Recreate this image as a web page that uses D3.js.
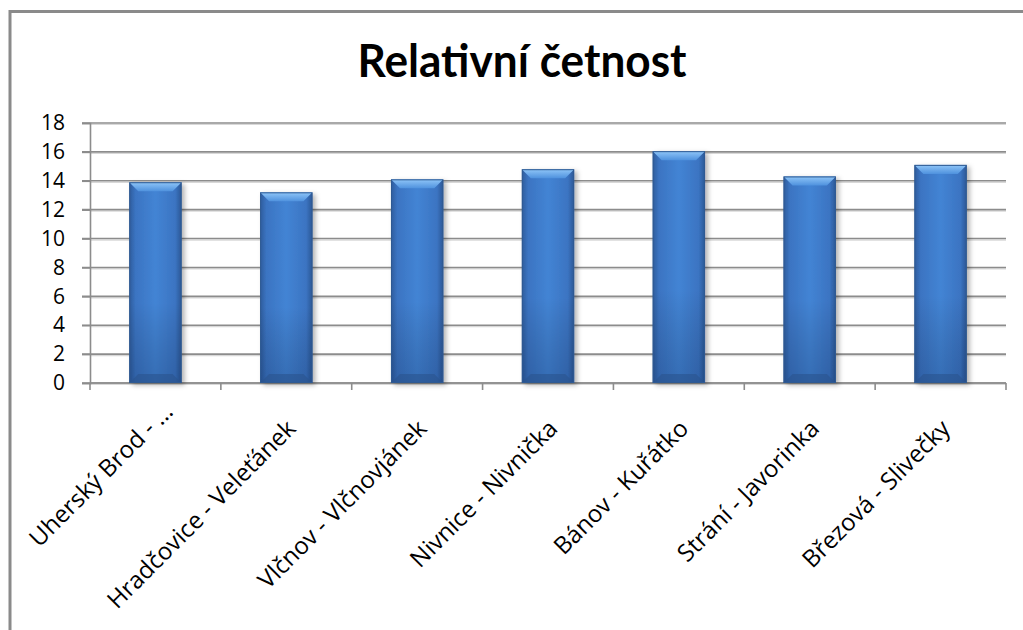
<!DOCTYPE html>
<html>
<head>
<meta charset="utf-8">
<script src="https://cdn.jsdelivr.net/npm/d3@7"></script>
<style>
  html, body { margin: 0; padding: 0; background: #fff; }
  svg { display: block; }
</style>
</head>
<body>
<svg id="chart" width="1023" height="630"></svg>
<script>
const title = "Relativní četnost";
const categories = [
  "Uherský Brod - …",
  "Hradčovice - Veleťánek",
  "Vlčnov - Vlčnovjánek",
  "Nivnice - Nivnička",
  "Bánov - Kuřátko",
  "Strání - Javorinka",
  "Březová - Slivečky"
];
const values = [13.9, 13.2, 14.1, 14.8, 16.05, 14.3, 15.1];
const yTicks = [0, 2, 4, 6, 8, 10, 12, 14, 16, 18];

const svg = d3.select("#chart");
const plot = { left: 90, right: 1006, top: 123, bottom: 383 };

// frame
svg.append("rect").attr("x", 10).attr("y", 11.5).attr("width", 1100).attr("height", 700)
  .attr("fill", "#fff").attr("stroke", "#8a8a8a").attr("stroke-width", 3);

// title
svg.append("text").attr("x", 522).attr("y", 77).attr("text-anchor", "middle")
  .attr("font-family", "Lato, 'Open Sans', sans-serif").attr("font-weight", 700)
  .attr("font-size", 45).attr("textLength", 329).attr("lengthAdjust", "spacingAndGlyphs")
  .attr("fill", "#000").text(title);

const x = d3.scaleBand().domain(categories).range([plot.left, plot.right])
  .paddingInner(0.6).paddingOuter(0.3);
const y = d3.scaleLinear().domain([0, 18]).range([plot.bottom, plot.top]);

const defs = svg.append("defs");
const gH = defs.append("linearGradient").attr("id", "barH").attr("x1", 0).attr("x2", 1).attr("y1", 0).attr("y2", 0);
[[0, "#2e5c9c"], [0.12, "#3b74c2"], [0.5, "#4384d4"], [0.88, "#3b74c2"], [1, "#2b5794"]]
  .forEach(([o, c]) => gH.append("stop").attr("offset", o).attr("stop-color", c));
const gV = defs.append("linearGradient").attr("id", "barV").attr("x1", 0).attr("x2", 0).attr("y1", 0).attr("y2", 1);
[[0, "rgba(255,255,255,0)"], [0.6, "rgba(0,0,0,0)"], [1, "rgba(0,20,60,0.2)"]]
  .forEach(([o, c]) => gV.append("stop").attr("offset", o).attr("stop-color", c));
const gTop = defs.append("linearGradient").attr("id", "barTop").attr("x1", 0).attr("x2", 0).attr("y1", 0).attr("y2", 1);
[[0, "#90c6f8"], [1, "#4f92de"]]
  .forEach(([o, c]) => gTop.append("stop").attr("offset", o).attr("stop-color", c));
const sh = defs.append("filter").attr("id", "shadow").attr("x", "-20%").attr("y", "-10%").attr("width", "150%").attr("height", "130%");
sh.append("feDropShadow").attr("dx", 3).attr("dy", 2).attr("stdDeviation", 2.5)
  .attr("flood-color", "#000").attr("flood-opacity", 0.3);

// gridlines
const grid = svg.append("g");
grid.selectAll("line.gs").data(yTicks).join("line").attr("class", "gs")
  .attr("x1", plot.left).attr("x2", plot.right)
  .attr("y1", d => y(d) + 1.5).attr("y2", d => y(d) + 1.5)
  .attr("stroke", "#d8d8d8").attr("stroke-width", 1.2);
grid.selectAll("line.g").data(yTicks).join("line").attr("class", "g")
  .attr("x1", plot.left - 8).attr("x2", plot.right)
  .attr("y1", d => y(d)).attr("y2", d => y(d))
  .attr("stroke", "#8c8c8c").attr("stroke-width", 1.6);

// y axis
const yAxis = svg.append("g").attr("transform", `translate(${plot.left},0)`)
  .call(d3.axisLeft(y).tickValues(yTicks).tickSize(8).tickPadding(17));
yAxis.select(".domain").attr("stroke", "#8c8c8c").attr("stroke-width", 1.6);
yAxis.selectAll(".tick line").attr("stroke", "#8c8c8c").attr("stroke-width", 1.6);
yAxis.selectAll(".tick text").attr("font-family", "'Open Sans', sans-serif")
  .attr("font-size", 21).attr("fill", "#000");

// x axis line and ticks
const bounds = categories.map((c, i) => plot.left + i * x.step()).concat([plot.right]);
svg.append("line").attr("x1", plot.left).attr("x2", plot.right).attr("y1", plot.bottom).attr("y2", plot.bottom)
  .attr("stroke", "#8c8c8c").attr("stroke-width", 1.6);
svg.selectAll("line.xt").data(bounds).join("line").attr("class", "xt")
  .attr("x1", d => d).attr("x2", d => d).attr("y1", plot.bottom).attr("y2", plot.bottom + 7)
  .attr("stroke", "#8c8c8c").attr("stroke-width", 1.6);

// bars
const bars = svg.append("g").selectAll("g.bar").data(categories.map((c, i) => ({ c, v: values[i] })))
  .join("g").attr("class", "bar");
bars.append("rect").attr("x", d => x(d.c)).attr("y", d => y(d.v))
  .attr("width", x.bandwidth()).attr("height", d => y(0) - y(d.v))
  .attr("fill", "url(#barH)").attr("filter", "url(#shadow)");
bars.append("rect").attr("x", d => x(d.c)).attr("y", d => y(d.v))
  .attr("width", x.bandwidth()).attr("height", d => y(0) - y(d.v))
  .attr("fill", "url(#barV)");
const bev = 9;
bars.append("path").attr("d", d => {
  const x0 = x(d.c), x1 = x0 + x.bandwidth(), t = y(d.v);
  return `M${x0},${t}L${x1},${t}L${x1 - bev},${t + bev}L${x0 + bev},${t + bev}Z`;
}).attr("fill", "url(#barTop)");
bars.append("path").attr("d", d => {
  const x0 = x(d.c), x1 = x0 + x.bandwidth(), b = y(0);
  return `M${x0},${b}L${x1},${b}L${x1 - bev},${b - bev}L${x0 + bev},${b - bev}Z`;
}).attr("fill", "#2a538d").attr("opacity", 0.6);
bars.append("rect").attr("x", d => x(d.c) + 0.5).attr("y", d => y(d.v) + 0.5)
  .attr("width", x.bandwidth() - 1).attr("height", d => y(0) - y(d.v) - 1)
  .attr("fill", "none").attr("stroke", "#2f5a92").attr("stroke-width", 1);

// category labels (truncated labels sit a little higher, as in the original)
svg.append("g").selectAll("text").data(categories).join("text")
  .attr("transform", d => {
    const trunc = d.endsWith("…");
    const cx = x(d) + x.bandwidth() / 2 + (trunc ? 19 : 11);
    const cy = plot.bottom + (trunc ? 30 : 47);
    return `translate(${cx},${cy}) rotate(-45)`;
  })
  .attr("text-anchor", "end")
  .attr("font-family", "'Open Sans', sans-serif").attr("font-size", 24).attr("fill", "#000")
  .text(d => d);
</script>
</body>
</html>
